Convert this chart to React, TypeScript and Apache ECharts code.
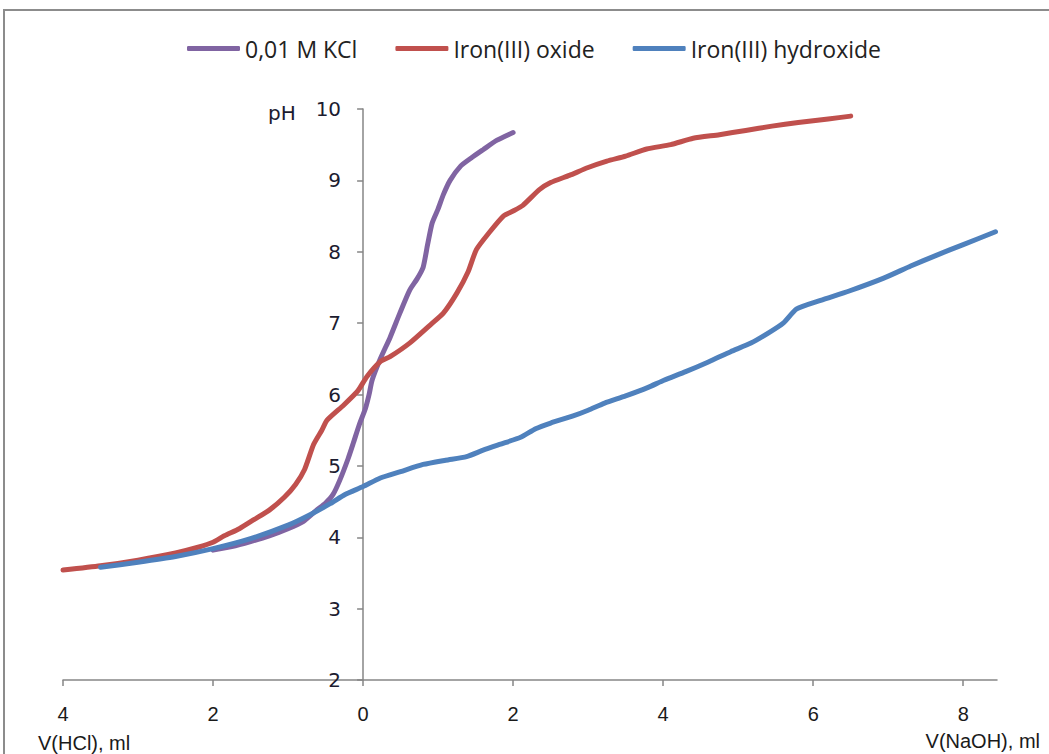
import React, { useEffect, useRef } from "react";
import * as echarts from "echarts";

const seriesNames = ["0,01 M KCl", "Iron(III) oxide", "Iron(III) hydroxide"];
const seriesColors = ["#8064A2", "#C0504D", "#4F81BD"];

const kclData: [number, number][] = [
  [-2.0, 3.82], [-1.75, 3.87], [-1.5, 3.94], [-1.25, 4.02], [-1.0, 4.12], [-0.8, 4.22],
  [-0.62, 4.38], [-0.5, 4.48], [-0.4, 4.6], [-0.31, 4.8], [-0.2, 5.1], [-0.13, 5.32],
  [-0.05, 5.58], [0.03, 5.8], [0.08, 6.0], [0.12, 6.2], [0.23, 6.5], [0.36, 6.8],
  [0.49, 7.14], [0.62, 7.46], [0.72, 7.62], [0.8, 7.78], [0.86, 8.1], [0.92, 8.4],
  [1.0, 8.6], [1.07, 8.8], [1.16, 9.0], [1.3, 9.2], [1.45, 9.32], [1.6, 9.43],
  [1.78, 9.56], [2.0, 9.67],
];

const oxideData: [number, number][] = [
  [-4, 3.54], [-3.5, 3.6], [-3, 3.68], [-2.5, 3.78], [-2.2, 3.86], [-2, 3.93],
  [-1.85, 4.02], [-1.65, 4.12], [-1.45, 4.25], [-1.25, 4.38], [-1.05, 4.56], [-0.9, 4.74],
  [-0.78, 4.95], [-0.66, 5.3], [-0.55, 5.5], [-0.48, 5.64], [-0.26, 5.85], [-0.07, 6.05],
  [0.05, 6.25], [0.23, 6.46], [0.36, 6.53], [0.62, 6.72], [0.89, 6.97], [1.07, 7.14],
  [1.25, 7.42], [1.4, 7.72], [1.51, 8.03], [1.69, 8.28], [1.87, 8.5], [2.0, 8.57],
  [2.13, 8.65], [2.35, 8.87], [2.5, 8.97], [2.75, 9.07], [3.0, 9.18], [3.25, 9.27],
  [3.5, 9.34], [3.78, 9.44], [4.1, 9.5], [4.4, 9.59], [4.75, 9.64], [5.1, 9.7],
  [5.45, 9.76], [5.8, 9.81], [6.2, 9.86], [6.5, 9.9],
];

const hydroxideData: [number, number][] = [
  [-3.5, 3.58], [-3, 3.65], [-2.5, 3.73], [-2, 3.84], [-1.5, 3.98], [-1, 4.17],
  [-0.7, 4.32], [-0.44, 4.47], [-0.24, 4.6], [0, 4.71], [0.23, 4.83], [0.5, 4.92],
  [0.8, 5.02], [1.1, 5.08], [1.38, 5.13], [1.6, 5.22], [1.82, 5.3], [2.1, 5.4],
  [2.3, 5.52], [2.5, 5.6], [2.8, 5.7], [3.0, 5.78], [3.22, 5.88], [3.5, 5.98],
  [3.8, 6.1], [4.01, 6.2], [4.3, 6.32], [4.61, 6.46], [4.9, 6.6], [5.17, 6.72],
  [5.4, 6.86], [5.6, 7.0], [5.78, 7.2], [6.1, 7.32], [6.48, 7.45], [6.94, 7.63],
  [7.3, 7.8], [7.64, 7.95], [8.0, 8.1], [8.43, 8.28],
];

const allData = [kclData, oxideData, hydroxideData];

const xMin = -4;
const xMax = 8.45;
const xInterval = 2;
const yMin = 2;
const yMax = 10;
const yInterval = 1;

const yName = "pH";
const xNameLeft = "V(HCl), ml";
const xNameRight = "V(NaOH), ml";

export default function App() {
  const ref = useRef<HTMLDivElement>(null);

  useEffect(() => {
    if (!ref.current) return;
    const chart = echarts.init(ref.current, undefined, { renderer: "svg" });
    const axisColor = "#868686";
    const gridLeft = 63;
    const gridRight = 52;
    const plotWidth = 1049 - gridLeft - gridRight;
    // place the y axis at x = 0 on the x scale
    const yAxisOffset = -((0 - xMin) / (xMax - xMin)) * plotWidth;
    chart.setOption({
      animation: false,
      backgroundColor: "#ffffff",
      grid: { left: gridLeft, right: gridRight, top: 109, bottom: 74, containLabel: false },
      legend: {
        left: 182,
        top: 32,
        icon: "roundRect",
        itemWidth: 53,
        itemHeight: 5,
        itemGap: 38,
        data: seriesNames,
        textStyle: { fontFamily: "Open Sans", fontSize: 23, color: "#222222" },
      },
      xAxis: {
        type: "value",
        min: xMin,
        max: xMax,
        interval: xInterval,
        splitLine: { show: false },
        axisLine: { onZero: false, lineStyle: { color: axisColor, width: 1.5 } },
        axisTick: { show: true, length: 6, lineStyle: { color: axisColor, width: 1.5 } },
        axisLabel: {
          margin: 24,
          fontFamily: "Liberation Sans",
          fontSize: 20,
          color: "#1a1a1a",
          showMaxLabel: false,
          formatter: (v: number) => (Math.abs(v % 2) < 1e-9 ? String(Math.abs(v)) : ""),
        },
      },
      yAxis: {
        type: "value",
        position: "left",
        offset: yAxisOffset,
        min: yMin,
        max: yMax,
        interval: yInterval,
        splitLine: { show: false },
        axisLine: { onZero: false, lineStyle: { color: axisColor, width: 1.5 } },
        axisTick: { show: true, length: 6, lineStyle: { color: axisColor, width: 1.5 } },
        axisLabel: {
          margin: 22,
          fontFamily: "DejaVu Sans",
          fontSize: 20,
          color: "#1c1c30",
        },
      },
      graphic: [
        {
          type: "rect",
          shape: { x: 4, y: 10, width: 1200, height: 900 },
          style: { fill: "none", stroke: "#8c8c8c", lineWidth: 2 },
          silent: true,
        },
        {
          type: "text",
          x: 268,
          y: 113,
          style: {
            text: yName,
            fontFamily: "DejaVu Sans",
            fontSize: 20,
            fill: "#1c1c30",
            align: "left",
            verticalAlign: "middle",
          },
        },
        {
          type: "text",
          x: 38,
          y: 743,
          style: {
            text: xNameLeft,
            fontFamily: "Liberation Sans",
            fontSize: 20,
            fill: "#1a1a1a",
            align: "left",
            verticalAlign: "middle",
          },
        },
        {
          type: "text",
          x: 1040,
          y: 741,
          style: {
            text: xNameRight,
            fontFamily: "Liberation Sans",
            fontSize: 20,
            fill: "#1a1a1a",
            align: "right",
            verticalAlign: "middle",
          },
        },
      ],
      series: seriesNames.map((name, i) => ({
        name,
        type: "line",
        data: allData[i],
        showSymbol: false,
        symbol: "none",
        smooth: 0.2,
        lineStyle: { color: seriesColors[i], width: 5, cap: "round", join: "round" },
        itemStyle: { color: seriesColors[i] },
        z: i === 0 ? 2 : i === 1 ? 3 : 4,
      })),
    });
    return () => {
      chart.dispose();
    };
  }, []);

  return (
    <div
      ref={ref}
      style={{ position: "absolute", left: 0, top: 0, width: 1049, height: 754 }}
    />
  );
}
